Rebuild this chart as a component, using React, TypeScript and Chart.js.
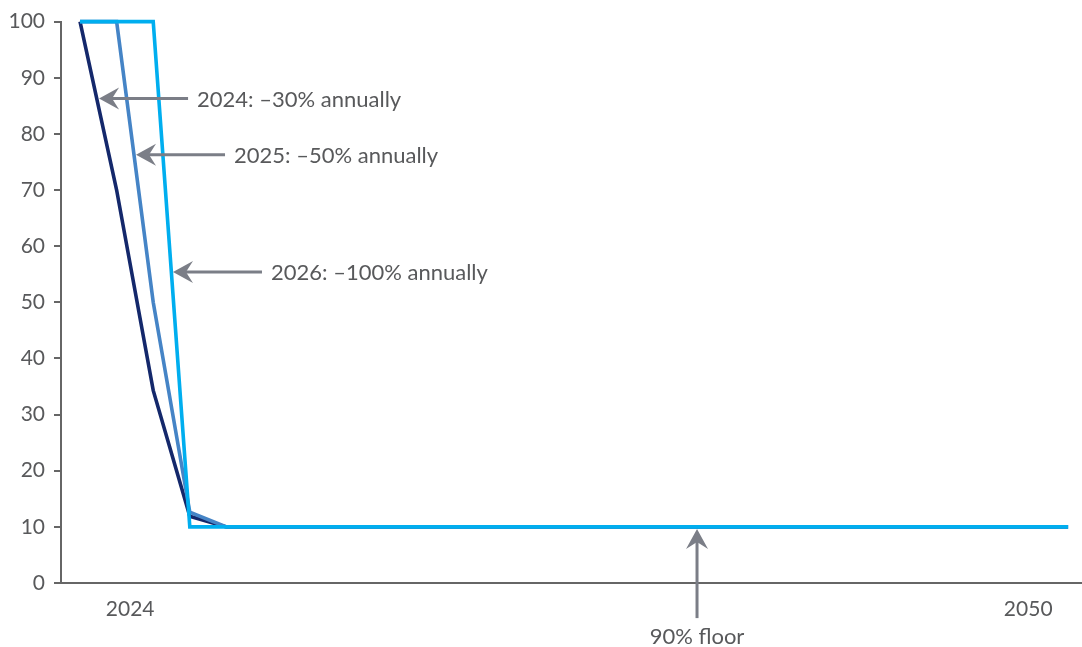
import React, { useEffect, useRef } from "react";
import { Chart, registerables } from "chart.js";

Chart.register(...registerables);

const years = [2023, 2024, 2025, 2026, 2027, 2028, 2029, 2030, 2031, 2032, 2033, 2034, 2035, 2036, 2037, 2038, 2039, 2040, 2041, 2042, 2043, 2044, 2045, 2046, 2047, 2048, 2049, 2050];

const start2026 = [100, 100, 100, 10, 10, 10, 10, 10, 10, 10, 10, 10, 10, 10, 10, 10, 10, 10, 10, 10, 10, 10, 10, 10, 10, 10, 10, 10];
const start2025 = [100, 100, 50, 12.6, 10, 10, 10, 10, 10, 10, 10, 10, 10, 10, 10, 10, 10, 10, 10, 10, 10, 10, 10, 10, 10, 10, 10, 10];
const start2024 = [100, 70, 34.3, 11.9, 10, 10, 10, 10, 10, 10, 10, 10, 10, 10, 10, 10, 10, 10, 10, 10, 10, 10, 10, 10, 10, 10, 10, 10];

const xTickLabels = ["2024", "2050"];
const xTickPositions = [2024.37, 2048.91];

const calloutLabels = ["2024: \u201330% annually", "2025: \u201350% annually", "2026: \u2013100% annually"];
const calloutTipYears = [2023.52, 2024.53, 2025.54];
const calloutTipValues = [86.3, 76.3, 55.4];

const floorLabel = "90% floor";
const floorTipYear = 2039.86;
const floorTipValue = 9.6;

const TEXT = "#58595b";
const ARROW = "#7b7e87";
const FONT = "Lato, 'Open Sans', sans-serif";

function arrowHead(ctx: CanvasRenderingContext2D, x: number, y: number, angle: number) {
  const L = 20, W = 11, N = 13;
  ctx.save();
  ctx.translate(x, y);
  ctx.rotate(angle);
  ctx.beginPath();
  ctx.moveTo(0, 0);
  ctx.lineTo(L, -W);
  ctx.lineTo(N, 0);
  ctx.lineTo(L, W);
  ctx.closePath();
  ctx.fill();
  ctx.restore();
}

const annotationPlugin = {
  id: "annotations",
  afterDatasetsDraw(chart: any) {
    const ctx = chart.ctx as CanvasRenderingContext2D;
    const xs = chart.scales.x;
    const ys = chart.scales.y;
    ctx.save();
    ctx.lineWidth = 3;
    ctx.font = `22px ${FONT}`;
    ctx.textBaseline = "middle";
    for (let i = 0; i < calloutLabels.length; i++) {
      const tx = xs.getPixelForValue(calloutTipYears[i]);
      const ty = ys.getPixelForValue(calloutTipValues[i]);
      const ex = tx + 89;
      ctx.strokeStyle = ARROW;
      ctx.fillStyle = ARROW;
      ctx.beginPath();
      ctx.moveTo(tx + 12, ty);
      ctx.lineTo(ex, ty);
      ctx.stroke();
      arrowHead(ctx, tx, ty, 0);
      ctx.fillStyle = TEXT;
      ctx.textAlign = "left";
      ctx.fillText(calloutLabels[i], ex + 9, ty + 1);
    }
    const fx = xs.getPixelForValue(floorTipYear);
    const fy = ys.getPixelForValue(floorTipValue);
    const bottom = fy + 89;
    ctx.strokeStyle = ARROW;
    ctx.fillStyle = ARROW;
    ctx.beginPath();
    ctx.moveTo(fx, fy + 12);
    ctx.lineTo(fx, bottom);
    ctx.stroke();
    arrowHead(ctx, fx, fy, Math.PI / 2);
    ctx.fillStyle = TEXT;
    ctx.textAlign = "center";
    ctx.fillText(floorLabel, fx, bottom + 19);
    ctx.restore();
  },
};

export default function App() {
  const ref = useRef<HTMLCanvasElement | null>(null);
  useEffect(() => {
    if (!ref.current) return;
    const mk = (data: number[]) => years.map((y, i) => ({ x: y, y: data[i] }));
    const chart = new Chart(ref.current, {
      type: "line",
      data: {
        datasets: [
          { label: "2026", data: mk(start2026), borderColor: "#00aeef", borderWidth: 3.6, pointRadius: 0, tension: 0, clip: false },
          { label: "2025", data: mk(start2025), borderColor: "#4584c6", borderWidth: 3.6, pointRadius: 0, tension: 0, clip: false },
          { label: "2024", data: mk(start2024), borderColor: "#14286b", borderWidth: 3.6, pointRadius: 0, tension: 0, clip: false },
        ],
      },
      options: {
        animation: false,
        responsive: true,
        maintainAspectRatio: false,
        layout: { padding: { top: 16, right: 0, bottom: 0, left: 0 } },
        plugins: { legend: { display: false }, tooltip: { enabled: false } },
        scales: {
          x: {
            type: "linear",
            min: 2022.48,
            max: 2050.38,
            grid: { display: false },
            border: { display: true, color: "#666666", width: 2 },
            afterBuildTicks: (scale: any) => {
              scale.ticks = xTickPositions.map((v) => ({ value: v }));
            },
            afterFit: (scale: any) => {
              scale.height = 64;
            },
            ticks: {
              autoSkip: false,
              maxRotation: 0,
              padding: 6,
              color: TEXT,
              font: { family: FONT, size: 21 },
              callback: (_v: any, i: number) => xTickLabels[i],
            },
          },
          y: {
            min: 0,
            max: 100,
            grid: { display: true, drawOnChartArea: false, tickLength: 7, color: "#666666", lineWidth: 2 },
            border: { display: true, color: "#666666", width: 2 },
            afterFit: (scale: any) => {
              scale.width = 61;
            },
            ticks: {
              stepSize: 10,
              padding: 9,
              color: TEXT,
              font: { family: FONT, size: 21 },
            },
          },
        },
      },
      plugins: [annotationPlugin],
    } as any);
    return () => chart.destroy();
  }, []);
  return (
    <div style={{ position: "fixed", left: 0, top: 0, width: 1082, height: 647, background: "#fff" }}>
      <canvas ref={ref} />
    </div>
  );
}
